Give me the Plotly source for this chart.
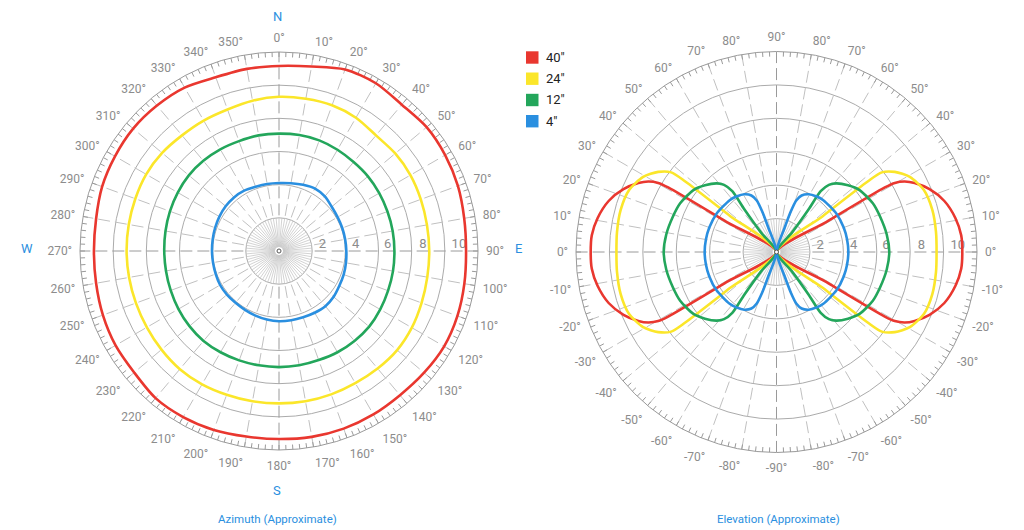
import plotly.graph_objects as go

# ---------------- data ----------------
series_names = ['40"', '24"', '12"', '4"']
series_colors = ['#e9372f', '#fbe62a', '#23a65b', '#2a8fe0']

# Azimuth (degrees clockwise from North) and radius per antenna height
az_theta = list(range(0, 360, 10))
az_40 = [11.16, 11.3, 11.65, 11.68, 11.52, 11.62, 11.57, 11.48, 11.34, 11.28, 11.35, 11.45,
         11.5, 11.42, 11.35, 11.38, 11.4, 11.38, 11.34, 11.36, 11.48, 11.56, 11.58, 11.4,
         11.38, 11.3, 11.2, 11.16, 11.2, 11.35, 11.42, 11.48, 11.45, 11.38, 11.15, 11.15]
az_24 = [9.3, 9.32, 9.35, 9.28, 9.1, 9.15, 9.15, 9.1, 9.06, 9.06, 9.08, 9.15,
         9.25, 9.3, 9.25, 9.2, 9.2, 9.2, 9.19, 9.2, 9.22, 9.28, 9.3, 9.25,
         9.2, 9.18, 9.18, 9.19, 9.2, 9.22, 9.25, 9.2, 9.1, 9.08, 9.08, 9.2]
az_12 = [7.08, 7.1, 7.1, 7.05, 7.0, 7.0, 6.98, 6.96, 6.96, 6.96, 6.98, 7.0,
         7.05, 7.1, 7.08, 7.05, 7.0, 7.0, 7.0, 7.0, 7.02, 7.05, 7.08, 7.05,
         7.0, 6.95, 6.92, 6.92, 6.95, 7.0, 7.05, 7.1, 7.1, 7.08, 7.05, 7.08]
az_4 = [4.1, 4.15, 4.25, 4.35, 4.3, 4.15, 4.08, 4.06, 4.05, 4.06, 4.1, 4.15,
        4.2, 4.3, 4.35, 4.3, 4.25, 4.24, 4.24, 4.2, 4.15, 4.1, 4.08, 4.1,
        4.1, 4.06, 4.04, 4.04, 4.06, 4.1, 4.15, 4.2, 4.22, 4.2, 4.12, 4.1]

# Elevation: upper-right quarter of each lobe (elevation angle, radius),
# from the null at the centre down to the horizon; pattern is symmetric.
el_40_theta = [31.2, 31.1, 30.8, 30.3, 28.8, 26.5, 22.3, 16.9, 10.7, 5.2, 0.0]
el_40_r = [0.0, 3.5, 7.55, 8.2, 8.76, 9.24, 9.9, 10.5, 10.9, 11.1, 11.12]
el_24_theta = [37.8, 37.8, 37.7, 37.1, 34.1, 29.4, 22.8, 15.0, 7.1, 0.0]
el_24_r = [0.0, 3.5, 6.9, 7.9, 8.55, 9.16, 9.57, 9.66, 9.62, 9.58]
el_12_theta = [50.0, 51.5, 53.0, 54.0, 52.0, 48.9, 43.0, 36.7, 26.8, 18.9, 9.0, 0.0]
el_12_r = [0.0, 1.5, 3.2, 4.5, 5.1, 5.45, 5.85, 6.2, 6.46, 6.55, 6.68, 6.75]
el_4_theta = [72.5, 71.5, 70.5, 69.0, 66.0, 61.0, 54.0, 47.9, 32.6, 20.0, 10.0, 0.0]
el_4_r = [0.0, 1.5, 2.6, 3.3, 3.7, 3.95, 4.1, 4.18, 4.26, 4.28, 4.29, 4.3]

ring_values = [2, 4, 6, 8, 10]
ring_labels = ['2', '4', '6', '8', '10']
az_tick_labels = {v: f'{v}°' for v in range(0, 360, 10)}
el_tick_labels = {}
for v in range(0, 360, 10):
    if v <= 90:
        el_tick_labels[v] = f'{v}°'
    elif v <= 270:
        el_tick_labels[v] = f'{180 - v}°'
    else:
        el_tick_labels[v] = f'{v - 360}°'

# ---------------- style ----------------
FONT = 'Roboto, Liberation Sans, Arial, sans-serif'
GRAY_TXT = '#8c8c8c'
BLUE_TXT = '#2a8fe0'
R_MAX = 12
TICK_IN = 0.3
LABEL_R = [2.62, 4.62, 6.55, 8.68, 10.85]

fig = go.Figure()


def add_grid(subplot, east_theta):
    # fine inner spokes
    rr, tt = [], []
    for a in range(0, 360, 5):
        rr += [0.25, 2.0, None]
        tt += [a, a, None]
    fig.add_trace(go.Scatterpolar(r=rr, theta=tt, mode='lines', subplot=subplot,
                                  line=dict(color='#c8c8c8', width=0.8),
                                  hoverinfo='skip', showlegend=False))
    # dashed spokes every 10 degrees
    for group, color in (([a for a in range(0, 360, 10) if a % 90], '#c0c0c0'),
                         ([0, 90, 180, 270], '#9a9a9a')):
        rr, tt = [], []
        for a in group:
            rr += [2.15, R_MAX, None]
            tt += [a, a, None]
        fig.add_trace(go.Scatterpolar(r=rr, theta=tt, mode='lines', subplot=subplot,
                                      line=dict(color=color, width=1, dash='12px,5px'),
                                      hoverinfo='skip', showlegend=False))
    # inner tick marks on the rim every 2 degrees
    rr, tt = [], []
    for a in range(0, 360, 2):
        rr += [R_MAX - TICK_IN, R_MAX, None]
        tt += [a, a, None]
    fig.add_trace(go.Scatterpolar(r=rr, theta=tt, mode='lines', subplot=subplot,
                                  line=dict(color='#9a9a9a', width=1),
                                  hoverinfo='skip', showlegend=False))
    # ring labels
    fig.add_trace(go.Scatterpolar(r=LABEL_R, theta=[east_theta] * len(LABEL_R),
                                  text=ring_labels, mode='text', textposition='top center',
                                  textfont=dict(family=FONT, size=13, color=GRAY_TXT),
                                  subplot=subplot, hoverinfo='skip', showlegend=False))


add_grid('polar', 90)
add_grid('polar2', 0)

# azimuth curves
for name, color, vals in zip(series_names, series_colors, [az_40, az_24, az_12, az_4]):
    fig.add_trace(go.Scatterpolar(r=vals + vals[:1], theta=az_theta + az_theta[:1],
                                  mode='lines', name=name, subplot='polar',
                                  line=dict(color=color, width=2.6, shape='spline', smoothing=0.8),
                                  showlegend=False))


def lobes(th, rr):
    low_t = [-t for t in reversed(th)]
    low_r = list(reversed(rr))
    right_t = th + low_t[1:]
    right_r = rr + low_r[1:]
    left_t = [180 - t for t in right_t]
    return [(right_t, right_r), (left_t, right_r)]


for name, color, th, rr in zip(series_names, series_colors,
                               [el_40_theta, el_24_theta, el_12_theta, el_4_theta],
                               [el_40_r, el_24_r, el_12_r, el_4_r]):
    for t_, r_ in lobes(th, rr):
        fig.add_trace(go.Scatterpolar(r=r_, theta=t_, mode='lines', name=name, subplot='polar2',
                                      line=dict(color=color, width=2.6, shape='spline', smoothing=0.7),
                                      showlegend=False))

# centre dots
for sp in ('polar', 'polar2'):
    fig.add_trace(go.Scatterpolar(r=[0], theta=[0], mode='markers', subplot=sp,
                                  marker=dict(size=4, color='white', line=dict(color='#555', width=1)),
                                  hoverinfo='skip', showlegend=False))

tickvals = list(range(0, 360, 10))


def polar_layout(domain_x, domain_y, labels, rotation, direction):
    return dict(
        domain=dict(x=domain_x, y=domain_y),
        bgcolor='white',
        radialaxis=dict(range=[0, R_MAX], tickvals=ring_values, showticklabels=False,
                        ticks='', showline=False, gridcolor='#ababab', gridwidth=1),
        angularaxis=dict(rotation=rotation, direction=direction, tickmode='array',
                         tickvals=tickvals,
                         ticktext=[labels[v] for v in tickvals],
                         ticks='outside', ticklen=5, tickwidth=1, tickcolor='rgba(0,0,0,0)',
                         showgrid=False, showline=True, linecolor='#9a9a9a', linewidth=1,
                         tickfont=dict(family=FONT, size=12, color=GRAY_TXT)),
    )


W, H = 1024, 530
lc, lr = (279, 251), 199
rc, rrad = (776.5, 252), 200.5

fig.update_layout(
    width=W, height=H,
    margin=dict(l=0, r=0, t=0, b=0),
    paper_bgcolor='white', plot_bgcolor='white',
    showlegend=False,
    polar=polar_layout([(lc[0] - lr) / W, (lc[0] + lr) / W],
                       [(H - lc[1] - lr) / H, (H - lc[1] + lr) / H],
                       az_tick_labels, 90, 'clockwise'),
    polar2=polar_layout([(rc[0] - rrad) / W, (rc[0] + rrad) / W],
                        [(H - rc[1] - rrad) / H, (H - rc[1] + rrad) / H],
                        el_tick_labels, 0, 'counterclockwise'),
)

annotations = []


def txt(x, y, s, color, size):
    annotations.append(dict(x=x / W, y=1 - y / H, xref='paper', yref='paper', text=s,
                            showarrow=False, xanchor='center', yanchor='middle',
                            font=dict(family=FONT, size=size, color=color)))


txt(277, 17, 'N', BLUE_TXT, 13)
txt(277, 490, 'S', BLUE_TXT, 13)
txt(27, 248, 'W', BLUE_TXT, 13)
txt(518, 248, 'E', BLUE_TXT, 13)
txt(277, 519, 'Azimuth (Approximate)', BLUE_TXT, 11.5)
txt(778, 519, 'Elevation (Approximate)', BLUE_TXT, 11.5)

# legend
legend_y = [57.5, 78.7, 100, 121.2]
shapes = []
for name, color, y in zip(series_names, series_colors, legend_y):
    shapes.append(dict(type='rect', xref='paper', yref='paper',
                       x0=526 / W, x1=538.5 / W, y0=1 - (y + 6.2) / H, y1=1 - (y - 6.2) / H,
                       fillcolor=color, line=dict(width=0)))
    annotations.append(dict(x=544 / W, y=1 - y / H, xref='paper', yref='paper', text=name,
                            showarrow=False, xanchor='left', yanchor='middle',
                            font=dict(family=FONT, size=13, color='#222')))

fig.update_layout(annotations=annotations, shapes=shapes)

fig.write_html('out.html')
